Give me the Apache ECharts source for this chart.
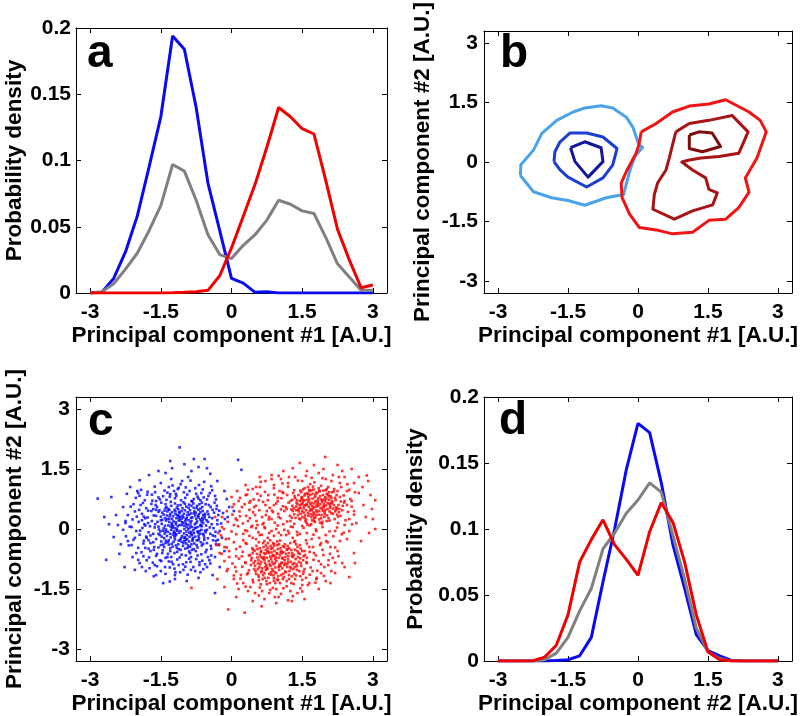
<!DOCTYPE html>
<html>
<head>
<meta charset="utf-8">
<script src="https://cdn.jsdelivr.net/npm/echarts@6/dist/echarts.min.js"></script>
<style>
html,body{margin:0;padding:0;background:#fff;}
#chart{width:800px;height:716px;}
</style>
</head>
<body>
<div id="chart"></div>
<script>
// ---------- tick values ----------
const pcTicks = [-3, -1.5, 0, 1.5, 3];

// ---------- panel a / d : probability densities (bin centres) ----------
const densX = [-3,-2.75,-2.5,-2.25,-2,-1.75,-1.5,-1.25,-1,-0.75,-0.5,-0.25,0,0.25,0.5,0.75,1,1.25,1.5,1.75,2,2.25,2.5,2.75,3];

const aBlue = [0,0.0005,0.011,0.031,0.058,0.095,0.133,0.194,0.184,0.14,0.083,0.047,0.011,0.0075,0.0005,0.001,0,0,0,0,0,0,0,0,0];
const aGray = [0,0.001,0.007,0.018,0.030,0.047,0.066,0.097,0.092,0.070,0.044,0.029,0.026,0.036,0.044,0.055,0.070,0.067,0.062,0.060,0.042,0.022,0.012,0.002,0.002];
const aRed  = [0,0,0,0,0,0,0,0.0002,0.0005,0.001,0.002,0.013,0.034,0.058,0.082,0.11,0.14,0.133,0.124,0.12,0.085,0.048,0.025,0.004,0.006];

const dBlue = [0,0,0,0,0,0.0005,0.001,0.004,0.018,0.06,0.10,0.145,0.18,0.173,0.135,0.088,0.055,0.02,0.008,0.004,0.0005,0,0,0,0];
const dGray = [0,0,0,0,0.001,0.006,0.018,0.038,0.055,0.085,0.097,0.112,0.122,0.135,0.128,0.095,0.062,0.025,0.007,0.002,0,0,0,0,0];
const dRed  = [0,0,0,0.0003,0.003,0.012,0.035,0.075,0.092,0.107,0.088,0.077,0.065,0.098,0.12,0.105,0.075,0.035,0.007,0.001,0,0,0,0,0];

// ---------- panel b : density contours ----------
const bBlueOuter = [[-2.52,-0.34],[-2.51,-0.07],[-2.24,0.30],[-2.06,0.72],[-1.74,1.05],[-1.39,1.26],[-1.14,1.36],[-0.79,1.42],[-0.54,1.36],[-0.25,1.13],[-0.11,0.88],[0.02,0.43],[0.10,0.37],[-0.07,0.14],[-0.18,-0.24],[-0.31,-0.82],[-0.68,-0.90],[-1.14,-1.09],[-1.50,-0.97],[-1.85,-0.90],[-2.24,-0.75],[-2.52,-0.34]];
const bBlueMid = [[-1.80,0.01],[-1.78,0.26],[-1.67,0.51],[-1.46,0.73],[-1.10,0.73],[-0.75,0.63],[-0.45,0.34],[-0.54,-0.07],[-0.75,-0.40],[-1.10,-0.63],[-1.50,-0.38],[-1.67,-0.20],[-1.80,0.01]];
const bBlueInner = [[-1.445,0.36],[-1.14,0.51],[-0.79,0.36],[-0.75,0.01],[-1.07,-0.38],[-1.35,0.01],[-1.445,0.36]];
const bRedOuter = [[0.07,0.76],[0.39,0.97],[0.74,1.26],[1.10,1.41],[1.52,1.46],[1.88,1.57],[2.38,1.26],[2.62,1.05],[2.75,0.76],[2.55,0.10],[2.30,-0.40],[2.38,-0.76],[2.16,-1.15],[1.88,-1.44],[1.52,-1.47],[1.17,-1.77],[0.74,-1.81],[0.39,-1.71],[0.03,-1.65],[-0.18,-1.31],[-0.34,-0.90],[-0.36,-0.53],[-0.25,-0.24],[-0.04,0.22],[0.02,0.43],[0.07,0.76]];
const bRedMid = [[0.81,0.76],[1.10,0.97],[1.52,1.05],[2.02,1.17],[2.36,0.76],[2.16,0.22],[1.74,0.14],[1.35,0.10],[1.10,0.05],[0.94,0.00],[1.17,-0.20],[1.45,-0.40],[1.52,-0.69],[1.70,-0.78],[1.60,-1.08],[1.17,-1.23],[0.78,-1.44],[0.32,-1.19],[0.35,-0.82],[0.42,-0.53],[0.60,-0.20],[0.67,0.10],[0.81,0.76]];
const bRedInner = [[1.10,0.68],[1.10,0.34],[1.38,0.26],[1.77,0.39],[1.59,0.73],[1.31,0.76],[1.10,0.68]];

// ---------- panel c : individual observations ----------
const cBlue = [
[-1.12,0.21],[-0.95,0.05],[-1.31,0.33],[-0.78,0.12],[-1.05,-0.18],[-1.44,0.02],[-0.62,0.28],[-0.88,0.47],[-1.23,-0.32],[-1.01,0.38],
[-0.71,-0.09],[-1.38,0.55],[-0.54,0.09],[-1.19,0.02],[-0.92,-0.41],[-1.52,-0.15],[-0.83,0.29],[-1.27,0.14],[-0.66,0.51],[-1.08,-0.05],
[-1.47,0.41],[-0.99,0.63],[-1.16,-0.47],[-0.74,-0.28],[-1.35,-0.07],[-0.58,-0.21],[-1.21,0.48],[-0.86,-0.12],[-1.57,0.18],[-1.03,0.16],
[-0.69,0.37],[-1.29,-0.21],[-0.91,0.22],[-1.41,0.27],[-0.79,-0.36],[-1.14,0.59],[-0.51,0.44],[-1.33,-0.39],[-0.97,-0.27],[-1.09,0.31],
[-0.64,-0.02],[-1.49,-0.31],[-0.85,0.58],[-1.24,0.07],[-0.73,0.19],[-1.17,-0.13],[-0.93,0.11],[-1.36,0.44],[-0.57,0.33],[-1.02,-0.35],
[-1.26,0.25],[-0.81,-0.03],[-1.43,-0.23],[-0.68,0.62],[-1.11,0.43],[-0.89,-0.19],[-1.55,0.06],[-0.76,0.41],[-1.2,-0.26],[-1.0,0.0],
[-0.6,0.15],[-1.32,0.18],[-0.94,0.34],[-1.13,-0.38],[-0.7,-0.17],[-1.4,0.62],[-0.84,0.05],[-1.06,0.26],[-1.25,-0.44],[-0.55,-0.08],
[-1.46,-0.04],[-0.8,0.53],[-1.18,0.12],[-0.96,-0.06],[-1.3,0.38],[-0.65,-0.33],[-1.04,0.52],[-1.37,-0.17],[-0.87,0.16],[-1.22,-0.09],
[-0.75,0.26],[-1.5,0.31],[-0.98,-0.49],[-1.15,0.35],[-0.61,0.45],[-1.34,0.09],[-0.9,-0.31],[-1.07,-0.23],[-0.72,0.05],[-1.28,0.58],
[-0.82,-0.22],[-1.42,-0.11],[-0.53,0.22],[-1.1,0.1],[-0.93,0.42],[-1.19,-0.16],[-0.67,-0.12],[-1.53,0.47],[-0.77,0.34],[-1.01,-0.11],
[-1.39,0.21],[-0.63,0.07],[-1.24,0.32],[-0.88,-0.44],[-1.12,-0.29],[-0.7,0.48],[-1.45,-0.39],[-0.95,0.27],[-1.2,0.64],[-0.58,-0.27],
[-1.33,-0.28],[-0.85,0.2],[-1.06,0.45],[-0.74,-0.4],[-1.48,0.13],[-0.97,0.13],[-1.16,-0.01],[-0.66,0.24],[-1.28,-0.02],[-0.9,0.61],
[-1.37,0.34],[-0.8,-0.1],[-1.03,-0.42],[-0.56,0.38],[-1.23,0.19],[-0.86,0.39],[-1.43,-0.45],[-0.69,-0.23],[-1.09,0.22],[-0.99,-0.2],
[-1.3,-0.12],[-0.62,0.55],[-1.14,0.07],[-0.83,-0.29],[-1.51,-0.06],[-0.76,0.03],[-1.02,0.29],[-1.26,0.42],[-0.59,-0.15],[-0.92,-0.01],
[-1.19,0.37],[-0.73,0.58],[-1.35,-0.33],[-0.87,0.09],[-1.08,0.6],[-0.64,0.19],[-1.41,0.08],[-0.96,-0.36],[-1.21,-0.2],[-0.79,0.44],
[-1.11,-0.09],[-0.68,-0.05],[-1.32,0.26],[-0.91,0.53],[-1.05,0.1],[-0.52,-0.02],[-1.47,0.23],[-0.84,-0.15],[-1.17,0.27],[-0.71,0.33],
[-1.27,-0.37],[-0.98,0.19],[-1.39,-0.01],[-0.6,-0.37],[-1.13,0.5],[-0.89,0.03],[-1.22,-0.06],[-0.77,-0.19],[-1.04,0.33],[-1.34,0.5],
[-0.65,0.11],[-0.94,-0.25],[-1.18,0.17],[-0.81,0.64],[-1.44,0.36],[-1.0,-0.3],[-0.57,0.27],[-1.25,0.03],[-0.86,-0.07],[-1.1,0.4],
[-1.85,0.12],[-1.72,-0.35],[-1.96,0.48],[-1.68,0.71],[-2.05,-0.22],[-1.78,0.29],[-1.91,-0.58],[-1.62,0.92],[-2.12,0.05],[-1.75,-0.71],
[-1.58,-0.62],[-1.88,0.65],[-1.66,-0.12],[-2.01,0.31],[-1.81,-0.19],[-1.7,0.45],[-1.94,-0.04],[-1.64,-0.45],[-2.18,-0.41],[-1.79,0.86],
[-1.6,0.33],[-1.98,-0.77],[-1.73,0.07],[-1.9,0.22],[-1.67,-0.84],[-2.08,0.62],[-1.83,-0.47],[-1.61,0.6],[-1.95,0.83],[-1.76,-0.28],
[-1.45,0.82],[-1.22,0.95],[-0.98,0.78],[-0.75,0.88],[-1.33,1.05],[-1.08,1.12],[-0.61,0.99],[-1.5,1.15],[-0.87,1.21],[-1.17,0.83],
[-0.52,0.74],[-1.38,0.73],[-0.69,1.1],[-1.01,0.92],[-1.28,1.25],[-0.46,0.9],[-0.8,0.75],[-1.12,1.03],[-0.92,1.3],[-1.42,0.96],
[-0.58,1.18],[-1.2,0.77],[-0.72,0.81],[-1.05,1.2],[-0.35,0.83],[-0.43,1.07],[-1.55,0.79],[-0.97,1.04],[-0.66,0.72],[-1.3,0.87],
[-1.35,-0.62],[-1.1,-0.71],[-0.88,-0.6],[-1.52,-0.78],[-0.72,-0.66],[-1.24,-0.88],[-0.96,-0.83],[-1.41,-0.95],[-0.62,-0.79],[-1.15,-0.57],
[-0.81,-0.95],[-1.28,-0.7],[-1.02,-1.02],[-0.55,-0.58],[-1.47,-0.6],[-0.9,-0.74],[-1.19,-1.08],[-0.68,-0.9],[-1.33,-0.81],[-1.06,-0.64],
[-0.77,-1.05],[-1.58,-0.93],[-0.5,-0.7],[-1.21,-0.99],[-0.93,-1.14],[-0.6,-1.0],[-1.4,-1.12],[-0.84,-0.52],[-1.12,-0.9],[-0.45,-0.86],
[-0.42,0.12],[-0.35,-0.18],[-0.28,0.35],[-0.44,-0.42],[-0.31,0.58],[-0.38,0.02],[-0.22,0.14],[-0.47,0.3],[-0.33,-0.3],[-0.25,-0.05],
[-0.4,0.48],[-0.18,0.4],[-0.3,0.22],[-0.45,-0.12],[-0.36,0.66],[-0.2,-0.22],[-0.48,0.6],[-0.27,-0.4],[-0.14,0.25],[-0.39,-0.28],
[-2.84,0.76],[-2.55,0.8],[-2.66,-0.77],[-2.45,0.35],[-2.5,-0.2],[-2.38,-0.62],[-2.3,0.55],[-2.41,0.1],[-2.27,-0.95],[-2.22,0.88],
[-2.35,-0.38],[-2.6,0.12],[-2.25,0.2],[-2.15,1.05],[-2.05,-1.02],[-1.95,1.22],[-1.82,-1.05],[-1.75,1.35],[-1.65,-1.18],[-1.55,1.45],
[-1.4,1.4],[-1.26,1.52],[-1.1,2.04],[-1.0,1.62],[-0.85,1.45],[-0.7,1.55],[-0.57,1.75],[-0.45,1.38],[-0.3,1.2],[-0.15,0.95],
[0.14,1.73],[0.21,1.48],[-0.05,0.55],[-0.1,0.75],[-0.35,-0.7],[-0.25,-0.95],[-0.4,-1.15],[-0.35,-1.6],[-1.31,-1.31],[-1.45,-1.35],
[-1.2,-1.25],[-0.95,-1.3],[-0.7,-1.22],[-1.6,-1.15],[-1.9,-0.95],[-2.1,-0.7],[-2.7,0.3],[-2.2,-0.3],[-2.0,0.95],[-1.3,1.7],
[-0.8,1.75],[-0.52,1.52],[-0.15,-0.55],[-0.08,0.3],[0.05,0.45]
];
const cBlueFill = [
[-1.92,0.98],[-1.63,1.06],[-1.36,0.91],[-1.14,1.0],[-0.89,0.95],[-0.64,0.9],[-0.41,0.97],[-1.78,0.93],[-1.25,1.09],[-0.77,1.02],
[-2.03,0.78],[-1.84,0.72],[-1.69,0.86],[-1.52,0.74],[-1.31,0.81],[-1.07,0.72],[-0.94,0.86],[-0.85,0.7],[-0.59,0.79],[-0.49,0.83],[-0.33,0.74],[-1.6,0.7],[-1.18,0.88],[-0.7,0.76],[-1.98,0.9],
[-2.14,0.56],[-1.93,0.6],[-1.81,0.52],[-1.7,0.63],[-1.58,0.55],[-1.49,0.66],[-1.29,0.68],[-1.16,0.53],[-0.96,0.56],[-0.83,0.69],[-0.74,0.52],[-0.55,0.62],[-0.44,0.55],[-0.32,0.5],[-1.66,0.5],[-1.02,0.67],[-0.63,0.66],[-1.4,0.52],
[-2.2,0.35],[-2.05,0.44],[-1.9,0.38],[-1.77,0.46],[-1.65,0.34],[-1.55,0.43],[-1.42,0.46],[-1.32,0.48],[-1.19,0.44],[-0.99,0.47],[-0.9,0.36],[-0.66,0.42],[-0.6,0.35],[-0.49,0.37],[-0.37,0.41],[-0.26,0.46],[-1.86,0.31],[-1.13,0.33],[-0.8,0.39],[-1.6,0.48],
[-2.25,0.15],[-2.1,0.24],[-1.97,0.18],[-1.83,0.27],[-1.69,0.2],[-1.62,0.12],[-1.5,0.22],[-1.36,0.25],[-1.26,0.11],[-1.12,0.28],[-0.97,0.24],[-0.86,0.28],[-0.75,0.15],[-0.61,0.22],[-0.5,0.18],[-0.41,0.27],[-0.3,0.12],[-1.77,0.15],[-1.05,0.17],[-0.7,0.29],
[-2.3,-0.02],[-2.16,0.06],[-2.02,-0.05],[-1.89,0.03],[-1.76,-0.08],[-1.63,0.04],[-1.54,-0.01],[-1.4,-0.06],[-1.29,0.06],[-1.15,-0.04],[-1.0,0.08],[-0.9,-0.09],[-0.78,0.02],[-0.66,0.08],[-0.56,-0.04],[-0.46,0.04],[-0.34,-0.07],[-1.83,0.09],[-1.2,-0.1],[-0.72,-0.06],
[-2.24,-0.18],[-2.08,-0.27],[-1.95,-0.14],[-1.86,-0.29],[-1.72,-0.16],[-1.6,-0.25],[-1.48,-0.19],[-1.39,-0.29],[-1.24,-0.14],[-1.09,-0.27],[-0.95,-0.15],[-0.82,-0.26],[-0.7,-0.28],[-0.61,-0.12],[-0.5,-0.23],[-0.4,-0.16],[-0.29,-0.27],[-1.55,-0.12],[-1.0,-0.22],[-1.8,-0.22],
[-2.12,-0.4],[-1.98,-0.47],[-1.87,-0.36],[-1.76,-0.49],[-1.66,-0.33],[-1.55,-0.46],[-1.4,-0.35],[-1.3,-0.48],[-1.18,-0.41],[-1.06,-0.32],[-0.93,-0.47],[-0.85,-0.38],[-0.72,-0.46],[-0.63,-0.41],[-0.52,-0.35],[-0.43,-0.49],[-0.33,-0.38],[-1.5,-0.4],[-0.8,-0.5],[-1.12,-0.5],
[-2.02,-0.6],[-1.87,-0.68],[-1.72,-0.55],[-1.6,-0.67],[-1.46,-0.53],[-1.36,-0.7],[-1.21,-0.6],[-1.08,-0.52],[-0.97,-0.66],[-0.86,-0.7],[-0.76,-0.55],[-0.64,-0.63],[-0.53,-0.52],[-0.43,-0.66],[-1.3,-0.55],[-0.9,-0.56],[-1.65,-0.52],
[-1.95,-0.85],[-1.8,-0.78],[-1.63,-0.9],[-1.49,-0.8],[-1.27,-0.82],[-1.15,-0.76],[-1.03,-0.88],[-0.87,-0.82],[-0.75,-0.75],[-0.56,-0.88],[-0.47,-0.78],[-1.4,-0.72],[-0.68,-0.83],
[-1.74,-0.98],[-1.5,-1.05],[-1.31,-0.96],[-1.09,-1.08],[-0.86,-1.02],[-0.66,-1.08],[-0.52,-0.95],[-1.2,-1.15],[-0.98,-0.94]
];

const cRed = [
[1.75,0.55],[1.52,0.71],[1.98,0.42],[1.63,0.33],[1.88,0.82],[1.41,0.48],[2.11,0.64],[1.7,0.97],[1.57,0.2],[2.24,0.36],
[1.82,0.61],[1.35,0.77],[2.02,0.88],[1.66,0.45],[1.93,0.18],[1.48,0.92],[2.16,0.51],[1.78,0.29],[1.29,0.58],[2.07,0.73],
[1.6,0.63],[1.85,1.02],[1.44,0.26],[2.3,0.8],[1.72,0.76],[1.96,0.57],[1.53,0.41],[2.19,0.25],[1.67,0.85],[1.91,0.35],
[1.38,0.66],[2.05,1.05],[1.8,0.47],[1.56,0.88],[2.27,0.6],[1.69,0.12],[1.99,0.69],[1.46,0.53],[2.13,0.92],[1.75,0.38],
[1.62,1.05],[1.89,0.53],[1.33,0.37],[2.21,0.72],[1.7,0.66],[1.95,0.96],[1.5,0.3],[2.08,0.44],[1.78,0.84],[1.42,0.85],
[2.35,0.47],[1.64,0.55],[1.86,0.24],[1.55,0.72],[2.01,0.59],[1.27,0.49],[1.83,0.71],[2.18,1.0],[1.59,0.16],[1.74,0.99],
[1.97,0.3],[1.4,0.62],[2.1,0.82],[1.68,0.37],[1.92,0.68],[1.49,0.8],[2.26,0.31],[1.81,0.43],[1.61,0.9],[2.04,0.5],
[1.36,0.28],[1.76,0.64],[1.9,1.08],[1.54,0.58],[2.14,0.66],[1.71,0.22],[1.99,0.8],[1.45,0.7],[2.22,0.54],[1.85,0.36],
[1.65,0.74],[1.31,0.9],[2.06,0.27],[1.79,0.91],[1.58,0.47],[1.94,0.45],[2.32,0.69],[1.47,0.38],[1.73,0.51],[2.0,0.97],
[1.63,0.8],[1.88,0.62],[1.25,0.7],[2.15,0.38],[1.69,0.3],[1.84,0.77],[1.52,0.99],[2.09,0.57],[1.77,0.18],[1.43,0.44],
[1.97,0.74],[1.6,0.6],[2.23,0.85],[1.8,0.56],[1.51,0.65],[2.03,0.34],[1.66,0.95],[1.92,0.5],[1.37,0.56],[2.12,0.78],
[1.74,0.42],[1.56,0.34],[1.87,0.94],[2.28,0.42],[1.64,0.68],[1.96,0.62],[1.45,0.6],[2.02,0.2],[1.83,0.66],[1.55,0.84],
[1.7,0.48],[2.17,0.6],[1.9,0.27],[1.34,0.82],[1.78,0.7],[2.07,0.92],[1.62,0.4],[1.99,0.48],[1.48,0.74],[1.86,0.45],
[2.25,0.95],[1.72,0.88],[1.58,0.24],[1.94,0.85],[1.41,0.35],[2.1,0.53],[1.8,0.35],[1.67,0.62],[2.36,0.58],[1.53,0.52],
[1.98,0.37],[1.77,0.8],[1.3,0.45],[2.13,0.7],[1.61,0.73],[1.88,0.16],[1.46,0.96],[2.04,0.65],[1.75,0.27],[1.57,0.6],
[1.93,0.72],[2.2,0.44],[1.68,0.5],[1.84,0.58],[1.39,0.72],[2.06,0.82],[1.73,0.34],[1.5,0.45],[1.95,0.55],[1.65,0.98],
[2.29,0.5],[1.82,0.9],[1.55,0.28],[2.01,0.76],[1.71,0.58],[1.44,0.52],
[0.95,-0.8],[0.72,-0.62],[1.18,-0.95],[0.84,-1.08],[1.06,-0.55],[0.61,-0.88],[1.3,-0.7],[0.9,-0.42],[0.78,-1.22],[1.22,-1.15],
[0.55,-0.71],[1.01,-1.02],[0.67,-0.35],[1.38,-0.88],[0.87,-0.68],[1.13,-0.38],[0.48,-1.0],[1.27,-0.52],[0.99,-1.28],[0.74,-0.9],
[1.44,-1.05],[0.63,-0.55],[1.09,-0.74],[0.82,-0.28],[1.35,-1.25],[0.93,-0.96],[0.58,-1.2],[1.2,-0.83],[0.7,-0.78],[1.04,-0.48],
[0.45,-0.6],[1.52,-0.78],[0.89,-1.15],[1.16,-0.62],[0.77,-0.47],[1.31,-1.0],[0.64,-1.05],[1.02,-0.88],[0.53,-0.42],[1.42,-0.6],
[0.86,-0.82],[1.11,-1.2],[0.69,-0.7],[1.25,-0.35],[0.96,-0.6],[0.59,-0.95],[1.48,-0.92],[0.81,-1.35],[1.07,-0.72],[0.73,-0.52],
[1.36,-0.75],[0.92,-1.08],[0.5,-0.8],[1.19,-0.5],[0.85,-0.58],[1.33,-1.12],[0.66,-1.25],[1.0,-0.95],[0.41,-0.9],[1.56,-0.65],
[0.88,-0.35],[1.14,-0.86],[0.76,-1.0],[1.29,-0.6],[0.6,-0.65],[1.05,-1.15],[0.94,-0.7],[1.4,-0.45],[0.71,-0.85],[1.23,-1.05],
[0.52,-1.12],[1.1,-0.58],[0.83,-0.92],[1.46,-1.18],[0.68,-0.45],[0.98,-0.5],[1.2,-0.68],[0.57,-0.78],[1.34,-0.95],[0.9,-1.22],
[0.75,-0.72],[1.08,-0.98],[0.46,-0.52],[1.5,-0.55],[0.8,-0.6],[1.26,-0.82],[0.62,-1.38],[1.03,-0.65],[0.89,-0.88],[1.37,-0.38],
[0.7,-1.1],[1.17,-1.3],[0.54,-0.62],[1.43,-0.82],[0.97,-0.4],[0.79,-0.8],[1.12,-0.45],[0.65,-0.98],[1.28,-1.18],[0.91,-0.55],
[1.55,-1.0],[0.74,-1.3],[1.06,-0.85],[0.43,-0.72],[1.32,-0.65],[0.86,-1.0],[1.15,-1.08],[0.6,-0.48],[1.0,-0.72],[0.77,-0.35],
[1.24,-0.95],[0.51,-1.05],[1.41,-0.7],[0.93,-1.35],[0.69,-0.6],[1.19,-0.42],[0.84,-0.75],[1.47,-0.85],[0.63,-0.82],[1.09,-1.25],
[0.97,-0.62],[1.3,-0.88],[0.72,-0.95],[0.55,-0.5],[1.14,-0.7],[0.87,-0.48],[1.39,-1.02],[0.67,-1.15],[1.04,-0.92],[0.8,-1.12],
[1.22,-0.6],[0.47,-0.85],[0.95,-1.1],[1.6,-0.72],[0.76,-0.58],[1.13,-0.78],[0.58,-1.28],[1.35,-0.52],[0.88,-0.65],[1.01,-0.38],
[0.66,-0.72],[1.27,-1.35],[0.83,-0.42],[1.45,-0.62],[0.73,-1.02],[1.18,-0.88],[0.39,-0.65],[1.07,-0.6],[0.92,-0.85],[1.52,-1.12],
[0.62,-0.58],[0.99,-1.18],
[0.05,0.1],[-0.12,-0.25],[0.18,0.32],[0.1,-0.5],[-0.2,0.05],[0.25,-0.12],[0.02,0.55],[0.35,0.2],[-0.05,-0.7],[0.3,-0.35],
[0.15,0.7],[0.42,0.05],[0.08,-0.95],[0.38,0.48],[-0.15,-0.45],[0.22,-0.68],[0.45,-0.22],[0.12,0.22],[0.5,0.35],[0.28,0.62],
[0.55,0.1],[0.33,-0.05],[0.6,-0.15],[0.48,0.55],[0.65,0.3],[0.7,0.05],[0.58,0.72],[0.75,0.45],[0.8,-0.1],[0.68,0.15],
[0.85,0.25],[0.9,0.6],[0.95,0.0],[0.78,0.85],[1.0,0.3],[1.05,-0.15],[0.88,0.42],[1.1,0.12],[1.15,0.55],[0.98,0.78],
[1.2,-0.05],[1.25,0.2],[1.08,0.92],[1.3,0.05],[1.4,-0.15],[1.5,0.08],[1.35,-0.3],[1.6,-0.1],[1.45,-0.4],[1.7,-0.25],
[1.55,-0.55],[1.8,-0.05],[1.65,-0.45],[1.9,-0.35],[1.75,-0.6],[2.0,-0.15],[1.85,-0.8],[2.1,-0.45],[1.95,-0.65],[2.2,-0.05],
[2.05,-0.9],[2.3,-0.3],[2.15,-0.72],[2.4,0.1],[2.25,-0.55],[2.5,0.25],[2.35,-0.85],[2.45,-0.25],[1.6,-0.85],[1.72,-1.05],
[1.8,-1.25],[1.65,-1.35],[1.9,-1.1],[2.0,-1.3],[1.5,-1.4],[1.58,-1.22],[0.2,-1.15],[0.3,-0.85],[0.25,-1.35],[0.35,-1.1],
[0.15,-1.5],[0.4,-1.45],[0.5,-1.6],[0.65,-1.55],[0.8,-1.6],[0.95,-1.5],[1.1,-1.48],[1.25,-1.55],[1.4,-1.6],[0.7,-1.75],
[1.0,-1.7],[1.2,-1.78],[0.05,-1.25],[-0.1,-1.05],[-0.25,-0.6],[-0.2,0.3],[-0.28,-0.1],[-0.1,0.45],[0.0,0.8],[0.12,0.95],
[0.3,0.85],[0.45,1.0],[0.6,1.05],[0.72,1.2],[0.9,1.1],[1.05,1.25],[1.2,1.15],[1.35,1.3],[1.5,1.2],[1.7,1.28],
[1.85,1.4],[2.0,1.25],[2.15,1.35],[2.3,1.15],[2.45,0.95],[2.55,0.7],[2.6,0.45],[2.65,0.15],[2.5,-0.05],[2.7,0.9],
[2.4,1.3],[1.95,1.5],[1.6,1.45],[1.3,1.52],[0.55,0.88],[0.4,0.7],
[1.99,1.8],[3.05,0.72],[2.87,1.34],[3.05,0.0],[-0.07,-2.01],[0.28,-2.09],[-0.85,-1.47],[0.64,-1.93],[1.28,-1.8],[2.62,-0.85],
[2.9,1.2],[2.8,0.6],[2.95,0.85],[2.75,-0.3],[2.6,-0.6],[2.85,0.3],[2.7,1.3],[2.55,1.5],[2.25,1.6],[1.75,1.6],
[1.45,1.65],[1.1,1.45],[0.85,1.35],[0.6,1.3],[0.3,1.1],[2.2,-1.1],[2.4,-0.95],[2.1,-1.35],[1.85,-1.5],[1.55,-1.75],
[0.95,-1.85],[0.45,-1.8],[0.1,-1.7],[-0.15,-1.45],[-0.3,-1.25],[-0.35,0.3],[-0.32,-0.4],[2.98,0.5],[2.78,1.05],[2.6,1.15],
[2.35,1.45],[3.0,0.25],[2.92,-0.1],[2.5,-1.2]
];
const cRedFill = [
[0.62,1.18],[0.85,1.25],[1.08,1.14],[1.22,1.3],[1.41,1.21],[1.58,1.33],[1.76,1.17],[1.93,1.27],[2.12,1.2],[2.28,1.3],[2.46,1.12],[1.0,1.33],[1.67,1.12],
[0.35,0.98],[0.52,1.05],[0.71,0.93],[0.9,1.02],[1.02,0.95],[1.2,1.06],[1.33,0.97],[1.55,1.02],[1.73,1.06],[1.86,0.96],[2.02,1.0],[2.17,0.94],[2.33,1.05],[2.5,0.98],[2.62,0.92],[1.1,0.9],
[0.18,0.78],[0.33,0.86],[0.47,0.74],[0.62,0.83],[0.77,0.72],[0.91,0.86],[1.06,0.77],[1.18,0.85],[1.29,0.73],[1.5,0.78],[1.62,0.87],[1.9,0.74],[2.05,0.86],[2.2,0.78],[2.38,0.84],[2.52,0.75],[0.98,0.7],[2.4,0.7],
[0.05,0.62],[0.22,0.55],[0.38,0.66],[0.52,0.58],[0.67,0.68],[0.81,0.53],[0.95,0.64],[1.09,0.57],[1.21,0.66],[1.32,0.52],[1.49,0.62],[2.08,0.63],[2.24,0.52],[2.39,0.66],[2.55,0.56],[0.72,0.6],[1.17,0.5],[2.45,0.6],
[0.02,0.36],[0.17,0.44],[0.31,0.33],[0.46,0.42],[0.59,0.47],[0.73,0.35],[0.86,0.46],[0.99,0.38],[1.12,0.45],[1.24,0.33],[1.37,0.47],[2.12,0.4],[2.31,0.33],[2.47,0.43],[2.6,0.36],[0.8,0.3],[1.05,0.49],[2.22,0.48],
[-0.08,0.18],[0.09,0.26],[0.24,0.14],[0.39,0.27],[0.53,0.2],[0.66,0.12],[0.79,0.24],[0.92,0.16],[1.04,0.27],[1.18,0.19],[1.33,0.13],[1.46,0.24],[1.61,0.11],[1.75,0.2],[1.92,0.13],[2.08,0.21],[2.26,0.15],[2.42,0.22],[2.56,0.12],[1.28,0.28],
[-0.16,0.0],[0.0,-0.06],[0.14,0.07],[0.29,-0.03],[0.44,0.08],[0.57,-0.08],[0.71,0.02],[0.85,-0.05],[0.98,0.09],[1.12,-0.02],[1.26,0.06],[1.39,-0.07],[1.53,0.03],[1.66,0.09],[1.79,-0.01],[1.93,0.05],[2.08,-0.06],[2.24,0.04],[2.38,-0.09],[0.52,0.02],[1.0,-0.09],
[-0.22,-0.16],[-0.06,-0.24],[0.1,-0.13],[0.25,-0.28],[0.38,-0.17],[0.52,-0.25],[0.64,-0.14],[0.77,-0.22],[0.9,-0.17],[1.03,-0.29],[1.16,-0.15],[1.3,-0.22],[1.45,-0.12],[1.58,-0.28],[1.74,-0.14],[1.86,-0.22],[2.01,-0.3],[2.16,-0.18],[2.34,-0.13],[0.7,-0.3],[1.22,-0.11],
[-0.26,-0.38],[-0.1,-0.46],[0.05,-0.33],[0.18,-0.44],[0.32,-0.37],[0.44,-0.48],[0.58,-0.33],[0.73,-0.41],[0.84,-0.49],[0.97,-0.31],[1.09,-0.43],[1.22,-0.48],[1.33,-0.32],[1.47,-0.49],[1.6,-0.36],[1.73,-0.45],[1.88,-0.4],[2.04,-0.33],[2.2,-0.46],[0.9,-0.37],
[-0.21,-0.62],[-0.05,-0.55],[0.1,-0.68],[0.24,-0.57],[0.37,-0.66],[0.49,-0.54],[0.62,-0.7],[0.78,-0.55],[0.9,-0.66],[1.04,-0.58],[1.17,-0.52],[1.28,-0.67],[1.4,-0.55],[1.53,-0.68],[1.66,-0.57],[1.79,-0.66],[1.93,-0.52],[2.09,-0.62],[2.27,-0.68],[0.82,-0.69],
[-0.15,-0.8],[0.02,-0.86],[0.16,-0.74],[0.29,-0.83],[0.42,-0.78],[0.56,-0.86],[0.68,-0.74],[0.81,-0.88],[0.93,-0.75],[1.07,-0.84],[1.2,-0.76],[1.33,-0.85],[1.46,-0.73],[1.59,-0.83],[1.74,-0.77],[1.9,-0.88],[2.06,-0.78],[2.2,-0.84],[1.12,-0.9],
[-0.08,-1.0],[0.1,-1.06],[0.23,-0.94],[0.37,-1.03],[0.5,-0.92],[0.63,-1.08],[0.76,-0.97],[0.88,-1.04],[1.01,-0.93],[1.14,-1.06],[1.26,-0.98],[1.39,-0.93],[1.53,-1.06],[1.68,-0.96],[1.82,-1.04],[1.97,-0.95],[2.12,-1.05],[0.56,-1.0],
[0.05,-1.16],[0.19,-1.24],[0.33,-1.13],[0.45,-1.27],[0.57,-1.15],[0.71,-1.22],[0.84,-1.14],[0.97,-1.26],[1.1,-1.12],[1.22,-1.25],[1.37,-1.16],[1.5,-1.27],[1.66,-1.14],[1.81,-1.22],[1.96,-1.17],[0.9,-1.29],
[0.12,-1.36],[0.3,-1.44],[0.46,-1.33],[0.6,-1.46],[0.75,-1.38],[0.88,-1.47],[1.03,-1.35],[1.17,-1.43],[1.32,-1.37],[1.46,-1.48],[1.62,-1.4],[1.78,-1.34],
[0.35,-1.55],[0.58,-1.66],[0.82,-1.52],[1.05,-1.62],[1.3,-1.68],[1.5,-1.56],[0.92,-1.7]
];

// ---------- labels ----------
const pc1Name = 'Principal component #1 [A.U.]';
const pc2Name = 'Principal component #2 [A.U.]';
const densName = 'Probability density';
const panelLetters = ['a', 'b', 'c', 'd'];

// ---------- styling ----------
const FONT = '"Liberation Sans", Arial, Helvetica, sans-serif';
const tickText = {fontFamily: FONT, fontWeight: 'bold', fontSize: 21, color: '#000'};
const nameText = {fontFamily: FONT, fontWeight: 'bold', fontSize: 22.5, color: '#000'};
const C_BLUE = '#0a0af2', C_RED = '#f20000', C_GRAY = '#808080';

const grids = [
  {left: 76, top: 28, width: 311, height: 265},
  {left: 484, top: 28, width: 310, height: 265},
  {left: 76, top: 397, width: 311, height: 265},
  {left: 484, top: 397, width: 310, height: 265}
];

function xPair(g, name, nameGap) {
  const base = {
    gridIndex: g, type: 'value', min: -3.3, max: 3.3,
    axisLine: {show: true, onZero: false, lineStyle: {color: '#000', width: 1}},
    axisTick: {show: true, inside: true, length: 5, customValues: pcTicks, lineStyle: {color: '#000', width: 1}},
    splitLine: {show: false}
  };
  return [
    Object.assign({}, base, {position: 'bottom', axisLabel: Object.assign({show: true, customValues: pcTicks, margin: 9}, tickText),
      name: name, nameLocation: 'middle', nameGap: nameGap, nameTextStyle: nameText}),
    Object.assign({}, base, {position: 'top', axisLabel: {show: false}})
  ];
}
function yPairPC(g, name, nameGap) {
  const base = {
    gridIndex: g, type: 'value', min: -3.3, max: 3.3,
    axisLine: {show: true, onZero: false, lineStyle: {color: '#000', width: 1}},
    axisTick: {show: true, inside: true, length: 5, customValues: pcTicks, lineStyle: {color: '#000', width: 1}},
    splitLine: {show: false}
  };
  return [
    Object.assign({}, base, {position: 'left', axisLabel: Object.assign({show: true, customValues: pcTicks, margin: 6}, tickText),
      name: name, nameLocation: 'middle', nameGap: nameGap, nameRotate: 90, nameTextStyle: nameText}),
    Object.assign({}, base, {position: 'right', axisLabel: {show: false}})
  ];
}
function yPairDens(g, name, nameGap) {
  const base = {
    gridIndex: g, type: 'value', min: 0, max: 0.2, interval: 0.05,
    axisLine: {show: true, onZero: false, lineStyle: {color: '#000', width: 1}},
    axisTick: {show: true, inside: true, length: 5, lineStyle: {color: '#000', width: 1}},
    splitLine: {show: false}
  };
  return [
    Object.assign({}, base, {position: 'left', axisLabel: Object.assign({show: true, margin: 5}, tickText),
      name: name, nameLocation: 'middle', nameGap: nameGap, nameRotate: 90, nameTextStyle: nameText}),
    Object.assign({}, base, {position: 'right', axisLabel: {show: false}})
  ];
}

function densLine(g, vals, color) {
  return {type: 'line', xAxisIndex: 2 * g, yAxisIndex: 2 * g, data: densX.map((x, i) => [x, vals[i]]),
    showSymbol: false, symbol: 'none', lineStyle: {color: color, width: 3}, clip: true, silent: true};
}
function contour(pts, color) {
  return {type: 'line', xAxisIndex: 2, yAxisIndex: 2, data: pts, showSymbol: false, symbol: 'none',
    lineStyle: {color: color, width: 3, join: 'round'}, clip: true, silent: true};
}
function scatter(pts, color) {
  return {type: 'scatter', xAxisIndex: 4, yAxisIndex: 4, data: pts, symbol: 'rect', symbolSize: 2.6,
    itemStyle: {color: color}, silent: true};
}

const letterPos = [[87, 31], [500, 31], [88, 399], [499, 398]];

const option = {
  backgroundColor: '#fff',
  animation: false,
  grid: grids,
  xAxis: [].concat(xPair(0, pc1Name, 30), xPair(1, pc1Name, 30), xPair(2, pc1Name, 26), xPair(3, pc2Name, 26)),
  yAxis: [].concat(yPairDens(0, densName, 50), yPairPC(1, pc2Name, 50), yPairPC(2, pc2Name, 50), yPairDens(3, densName, 57)),
  series: [
    densLine(0, aBlue, C_BLUE), densLine(0, aGray, C_GRAY), densLine(0, aRed, C_RED),
    contour(bBlueOuter, '#4aa3e8'), contour(bBlueMid, '#1c3ed2'), contour(bBlueInner, '#12169a'),
    contour(bRedOuter, '#f01414'), contour(bRedMid, '#a81414'), contour(bRedInner, '#7e0c0c'),
    scatter(cBlue.concat(cBlueFill), '#0000ff'), scatter(cRed.concat(cRedFill), '#ff0000'),
    densLine(3, dBlue, C_BLUE), densLine(3, dGray, C_GRAY), densLine(3, dRed, C_RED)
  ],
  graphic: panelLetters.map((t, i) => ({
    type: 'text', left: letterPos[i][0], top: letterPos[i][1], silent: true,
    style: {text: t, font: 'bold 46px ' + FONT, fill: '#000'}
  }))
};

const chart = echarts.init(document.getElementById('chart'), null, {renderer: 'canvas'});
chart.setOption(option);
</script>
</body>
</html>
